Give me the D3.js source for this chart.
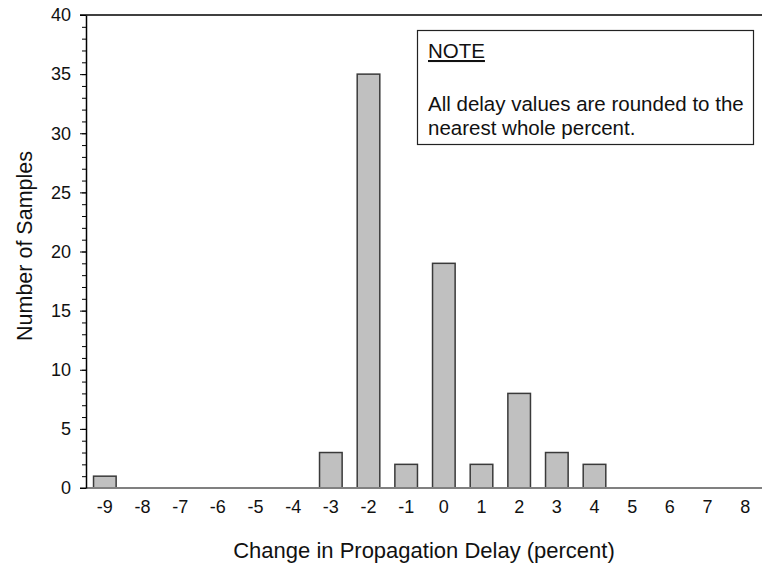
<!DOCTYPE html>
<html>
<head>
<meta charset="utf-8">
<script src="https://cdn.jsdelivr.net/npm/d3@7"></script>
<style>
body { margin: 0; background: #fff; }
text { font-family: "Liberation Sans", Arial, sans-serif; fill: #111; }
</style>
</head>
<body>
<script>
var categories = ["-9", "-8", "-7", "-6", "-5", "-4", "-3", "-2", "-1", "0", "1", "2", "3", "4", "5", "6", "7", "8"];
var counts = [1, 0, 0, 0, 0, 0, 3, 35, 2, 19, 2, 8, 3, 2, 0, 0, 0, 0];
var yTicks = [0, 5, 10, 15, 20, 25, 30, 35, 40];
var noteLines = ["All delay values are rounded to the", "nearest whole percent."];

var width = 762;
var height = 566;
var plotLeft = 86;
var plotTop = 15;
var plotBottom = 488;
var plotRight = 764;

var svg = d3.select("body")
    .append("svg")
    .attr("width", width)
    .attr("height", height);

var x = d3.scaleBand()
    .domain(categories)
    .range([plotLeft, plotRight])
    .paddingInner(0.4)
    .paddingOuter(0.2);

var y = d3.scaleLinear()
    .domain([0, 40])
    .range([plotBottom, plotTop]);

var data = categories.map(function (c, i) { return { cat: c, value: counts[i] }; });

// bars (zero counts draw nothing)
svg.append("g").selectAll("rect")
    .data(data.filter(function (d) { return d.value > 0; }))
    .enter().append("rect")
    .attr("x", function (d) { return x(d.cat); })
    .attr("y", function (d) { return y(d.value); })
    .attr("width", x.bandwidth())
    .attr("height", function (d) { return y(0) - y(d.value); })
    .attr("fill", "#c0c0c0")
    .attr("stroke", "#3a3a3a")
    .attr("stroke-width", 1.5);

// top frame line
svg.append("line")
    .attr("x1", plotLeft - 6).attr("x2", width)
    .attr("y1", y(40)).attr("y2", y(40))
    .attr("stroke", "#000").attr("stroke-width", 1.5);

// baseline
svg.append("line")
    .attr("x1", plotLeft - 6).attr("x2", width)
    .attr("y1", y(0)).attr("y2", y(0))
    .attr("stroke", "#808080").attr("stroke-width", 2);

// minor ticks on y axis
var minor = d3.axisLeft(y)
    .ticks(40)
    .tickSize(4)
    .tickFormat("");
svg.append("g")
    .attr("transform", "translate(" + plotLeft + ",0)")
    .call(minor)
    .call(function (g) { g.select(".domain").remove(); })
    .selectAll("line").attr("stroke", "#000");

var yAxis = d3.axisLeft(y)
    .tickValues(yTicks)
    .tickSize(6)
    .tickSizeOuter(0)
    .tickPadding(9);
var yg = svg.append("g")
    .attr("transform", "translate(" + plotLeft + ",0)")
    .call(yAxis);
yg.select(".domain").attr("stroke", "#000").attr("stroke-width", 1.5);
yg.selectAll("line").attr("stroke", "#000");
yg.selectAll("text")
    .style("font-family", "Liberation Sans, Arial, sans-serif")
    .style("font-size", "18px")
    .attr("fill", "#111");

var xAxis = d3.axisBottom(x)
    .tickSize(0)
    .tickPadding(12);
var xg = svg.append("g")
    .attr("transform", "translate(0," + plotBottom + ")")
    .call(xAxis);
xg.select(".domain").remove();
xg.selectAll("text")
    .style("font-family", "Liberation Sans, Arial, sans-serif")
    .style("font-size", "18px")
    .attr("fill", "#111");

// axis titles
svg.append("text")
    .attr("x", (plotLeft + width) / 2)
    .attr("y", 558)
    .attr("text-anchor", "middle")
    .style("font-size", "22px")
    .text("Change in Propagation Delay (percent)");

svg.append("text")
    .attr("transform", "translate(32," + 246 + ") rotate(-90)")
    .attr("text-anchor", "middle")
    .style("font-size", "21.5px")
    .text("Number of Samples");

// note box
var note = svg.append("g");
note.append("rect")
    .attr("x", 417.5).attr("y", 30.5)
    .attr("width", 336).attr("height", 114)
    .attr("fill", "#fff")
    .attr("stroke", "#222")
    .attr("stroke-width", 1.2);
note.append("text")
    .attr("x", 428).attr("y", 58)
    .style("font-size", "20.5px")
    .style("text-decoration", "underline")
    .text("NOTE");
note.selectAll(".noteLine")
    .data(noteLines)
    .enter().append("text")
    .attr("class", "noteLine")
    .attr("x", 428)
    .attr("y", function (d, i) { return 111 + i * 24; })
    .style("font-size", "20.5px")
    .text(function (d) { return d; });
</script>
</body>
</html>
